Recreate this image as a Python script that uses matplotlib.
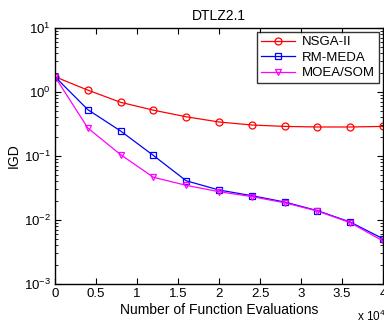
import matplotlib
matplotlib.use("Agg")
import matplotlib.pyplot as plt
from matplotlib.ticker import LogLocator, NullFormatter

plt.rcParams['font.family'] = ['Liberation Sans', 'DejaVu Sans']
plt.rcParams['mathtext.fontset'] = 'custom'
plt.rcParams['mathtext.rm'] = 'Liberation Sans'
plt.rcParams['mathtext.it'] = 'Liberation Sans'

evaluations = [0, 4000, 8000, 12000, 16000, 20000, 24000, 28000, 32000, 36000, 40000]
nsga2 = [1.73, 1.07, 0.69, 0.52, 0.41, 0.34, 0.305, 0.29, 0.284, 0.284, 0.29]
rmmeda = [1.73, 0.53, 0.246, 0.102, 0.041, 0.0294, 0.024, 0.0191, 0.014, 0.0093, 0.0051]
moeasom = [1.73, 0.274, 0.105, 0.0465, 0.0348, 0.0277, 0.0232, 0.0186, 0.0138, 0.0091, 0.0047]
series_names = ["NSGA-II", "RM-MEDA", "MOEA/SOM"]
xticks = [0, 0.5, 1, 1.5, 2, 2.5, 3, 3.5, 4]
xticklabels = ["0", "0.5", "1", "1.5", "2", "2.5", "3", "3.5", "4"]

fig = plt.figure(figsize=(3.84, 3.24), dpi=100)
ax = fig.add_axes([55/384, 1-284/324, 328/384, 256/324])

x = [e / 1e4 for e in evaluations]
ax.plot(x, nsga2, color='#ff0000', marker='o', mfc='none', ms=5, lw=0.9, mew=0.9, label=series_names[0])
ax.plot(x, rmmeda, color='#0000ff', marker='s', mfc='none', ms=5, lw=0.9, mew=0.9, label=series_names[1])
ax.plot(x, moeasom, color='#ff00ff', marker='v', mfc='none', ms=5, lw=0.9, mew=0.9, label=series_names[2])

ax.set_yscale('log')
ax.set_ylim(1e-3, 1e1)
ax.set_xlim(0, 4)
ax.set_xticks(xticks)
ax.set_xticklabels(xticklabels)
ax.set_yticks([1e-3, 1e-2, 1e-1, 1e0, 1e1])
ax.set_yticklabels([r'$10^{-3}$', r'$10^{-2}$', r'$10^{-1}$', r'$10^{0}$', r'$10^{1}$'])
ax.yaxis.set_minor_locator(LogLocator(base=10, subs=range(2, 10)))
ax.yaxis.set_minor_formatter(NullFormatter())
ax.tick_params(which='both', direction='in', top=True, right=True, labelsize=9.5, pad=3)
ax.tick_params(which='major', length=4, width=0.8)
ax.tick_params(which='minor', length=2, width=0.6)
for s in ax.spines.values():
    s.set_linewidth(1.0)

ax.set_title('DTLZ2.1', fontsize=10, pad=6)
ax.set_xlabel('Number of Function Evaluations', fontsize=10, labelpad=2)
ax.set_ylabel('IGD', fontsize=10, labelpad=2)
fig.text(357/384, 1-316/324, r'x $10^{4}$', fontsize=8.5, va='center', ha='left')

leg = ax.legend(loc='upper right', fontsize=9.5, frameon=True, fancybox=False,
                edgecolor='black', borderaxespad=0.3, handlelength=2.6,
                borderpad=0.3, labelspacing=0.25, handletextpad=0.5)
leg.get_frame().set_linewidth(1.0)

fig.savefig('out.png', dpi=100)
